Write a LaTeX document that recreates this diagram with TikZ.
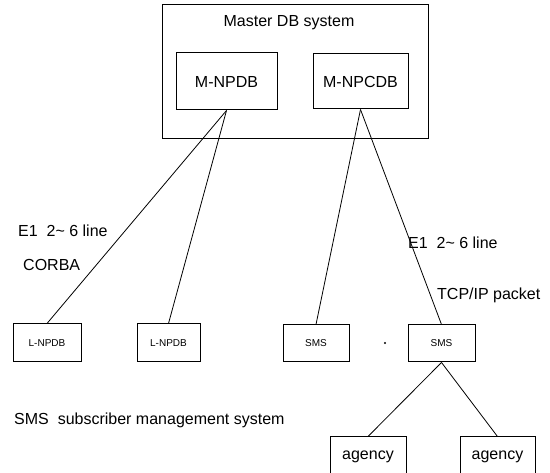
\documentclass[tikz,border=0pt]{standalone}
\usepackage{fontspec}
\setmainfont{Liberation Sans}
\begin{document}
\begin{tikzpicture}[x=1pt,y=-1pt,
  box/.style={draw, line width=1pt, inner sep=0pt, rectangle},
  big/.style={font=\fontsize{16}{19}\selectfont, inner sep=0pt},
  small/.style={font=\fontsize{10}{12}\selectfont, inner sep=0pt},
  link/.style={line width=0.8pt}]
\clip (0,0) rectangle (550,473);
\useasboundingbox (0,0) rectangle (550,473);
% master system
\node[box, minimum width=266pt, minimum height=134pt] (master) at (295,72) {};
\node[big] (mastertxt) at (289,23) {Master DB system};
\node[box, big, minimum width=101pt, minimum height=57pt] (npdb) at (226.5,81.5) {M-NPDB};
\node[box, big, minimum width=95pt, minimum height=55pt] (npcdb) at (360.5,81.5) {M-NPCDB};
% local boxes
\node[box, small, minimum width=68pt, minimum height=38pt] (l1) at (47,343) {L-NPDB};
\node[box, small, minimum width=63pt, minimum height=38pt] (l2) at (168.5,343) {L-NPDB};
\node[box, small, minimum width=66pt, minimum height=37pt] (s1) at (316,343.5) {SMS};
\node[box, small, minimum width=67pt, minimum height=37pt] (s2) at (441.5,343.5) {SMS};
\node[circle, fill, inner sep=0.8pt] (dot) at (385,343) {};
% agencies
\node[box, minimum width=76pt, minimum height=60pt] (a1) at (368,467) {};
\node[box, minimum width=75pt, minimum height=60pt] (a2) at (497.5,467) {};
\node[big] (a1txt) at (368,457) {agency};
\node[big] (a2txt) at (497.5,457) {agency};
% connectors
\draw[link] (npdb.south) -- (l1.north);
\draw[link] (npdb.south) -- (l2.north);
\draw[link] (npcdb.south) -- (s1.north);
\draw[link] (npcdb.south) -- (s2.north);
\draw[link] (s2.south) -- (a1.north);
\draw[link] (s2.south) -- (a2.north);
% labels
\node[big, anchor=west] (e1l) at (18,231) {E1\ \ 2\char"7E\ 6 line};
\node[big, anchor=west] (corba) at (23,265) {CORBA};
\node[big, anchor=west] (e1r) at (408,243) {E1\ \ 2\char"7E\ 6 line};
\node[big, anchor=west] (tcp) at (437,295) {TCP/IP packet};
\node[big, anchor=west] (smsdef) at (14,420) {SMS\ \ subscriber management system};
\end{tikzpicture}
\end{document}
